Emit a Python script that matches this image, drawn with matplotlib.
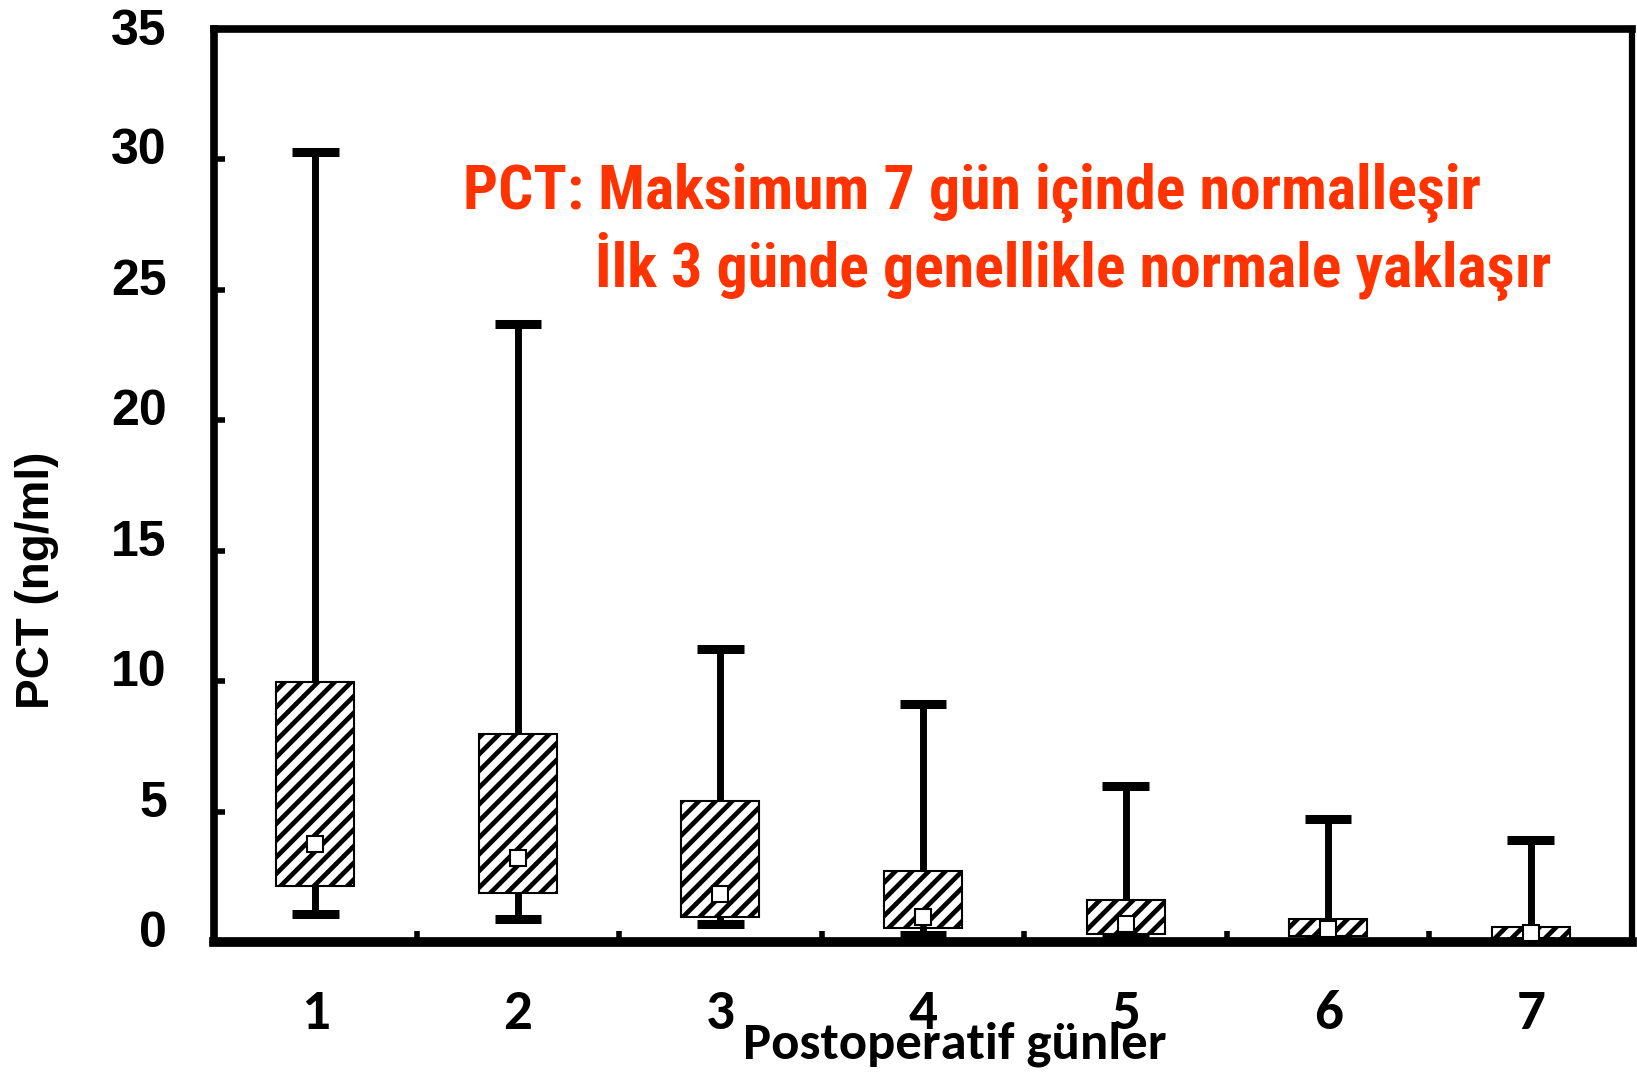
import matplotlib
matplotlib.use("Agg")
import matplotlib.pyplot as plt
from matplotlib.transforms import ScaledTranslation

# Daily PCT distribution (ng/ml) after surgery
days = [1, 2, 3, 4, 5, 6, 7]
day_labels = ["1", "2", "3", "4", "5", "6", "7"]
whisker_low = [1.08, 0.88, 0.68, 0.28, 0.12, 0.08, 0.05]
q1 = [2.15, 1.87, 0.96, 0.52, 0.32, 0.24, 0.12]
median = [3.75, 3.23, 1.83, 0.96, 0.68, 0.48, 0.36]
q3 = [9.97, 7.98, 5.42, 2.71, 1.60, 0.88, 0.56]
whisker_high = [30.3, 23.7, 11.25, 9.13, 5.98, 4.70, 3.90]
y_ticks = [0, 5, 10, 15, 20, 25, 30, 35]

plt.rcParams["hatch.linewidth"] = 3.4

W, H = 1637, 1073
fig = plt.figure(figsize=(W / 100, H / 100), dpi=100)
ax = fig.add_axes([214 / W, 1 - 942 / H, (1632 - 214) / W, (942 - 29) / H])

box_w = 0.385
cap_w = 0.23

# boxes (interquartile range)
ax.bar(days, [h - l for h, l in zip(q3, q1)], bottom=q1, width=box_w,
       facecolor="white", edgecolor="black", hatch="//", linewidth=1.5, zorder=2)
# whiskers
ax.vlines(days, q3, whisker_high, color="black", linewidth=5, zorder=1)
ax.vlines(days, whisker_low, q1, color="black", linewidth=5, zorder=1)
# caps
ax.hlines(whisker_high, [d - cap_w / 2 for d in days], [d + cap_w / 2 for d in days],
          color="black", linewidth=6.5, zorder=3)
ax.hlines(whisker_low, [d - cap_w / 2 for d in days], [d + cap_w / 2 for d in days],
          color="black", linewidth=6.5, zorder=3)
# medians
ax.plot(days, median, linestyle="none", marker="s", markersize=12,
        markerfacecolor="white", markeredgecolor="black", markeredgewidth=1.5, zorder=4)

ax.set_xlim(0.5, 7.5)
ax.set_ylim(0, 34.9)

for side, lw in {"left": 5.5, "bottom": 7, "top": 5.5, "right": 4.5}.items():
    ax.spines[side].set_linewidth(lw)

ax.set_yticks(y_ticks)
ax.set_yticklabels([str(v) for v in y_ticks], fontsize=36, fontweight="bold",
                   family="Liberation Sans")
ax.tick_params(axis="y", direction="in", length=8, width=4, pad=34)
for v, lab in zip(y_ticks, ax.get_yticklabels()):
    shift = 0.02 if v == 35 else 0.13
    lab.set_transform(lab.get_transform() + ScaledTranslation(0, shift, fig.dpi_scale_trans))

ax.set_xticks(days)
ax.set_xticklabels(day_labels, fontsize=41, fontweight="bold", family="Carlito")
ax.tick_params(axis="x", which="major", length=0, pad=34)
ax.set_xticks([d + 0.5 for d in days[:-1]], minor=True)
ax.tick_params(axis="x", which="minor", direction="in", length=8, width=4)

fig.text(37 / W, 1 - 580 / H, "PCT (ng/ml)", rotation=90, ha="center", va="center",
         fontsize=33, fontweight="bold", family="Liberation Sans")
fig.text(955 / W, 1 - 1044 / H, "Postoperatif günler", ha="center", va="center",
         fontsize=38, fontweight="bold", family="Carlito")

red = "#FF3300"
fig.text(463 / W, 1 - 209 / H, "PCT: Maksimum 7 gün içinde normalleşir",
         ha="left", va="baseline", fontsize=44.5, fontweight="bold",
         family="Roboto Condensed", color=red)
fig.text(595 / W, 1 - 287 / H, "İlk 3 günde genellikle normale yaklaşır",
         ha="left", va="baseline", fontsize=44.5, fontweight="bold",
         family="Roboto Condensed", color=red)

fig.savefig("out.png", dpi=100)
